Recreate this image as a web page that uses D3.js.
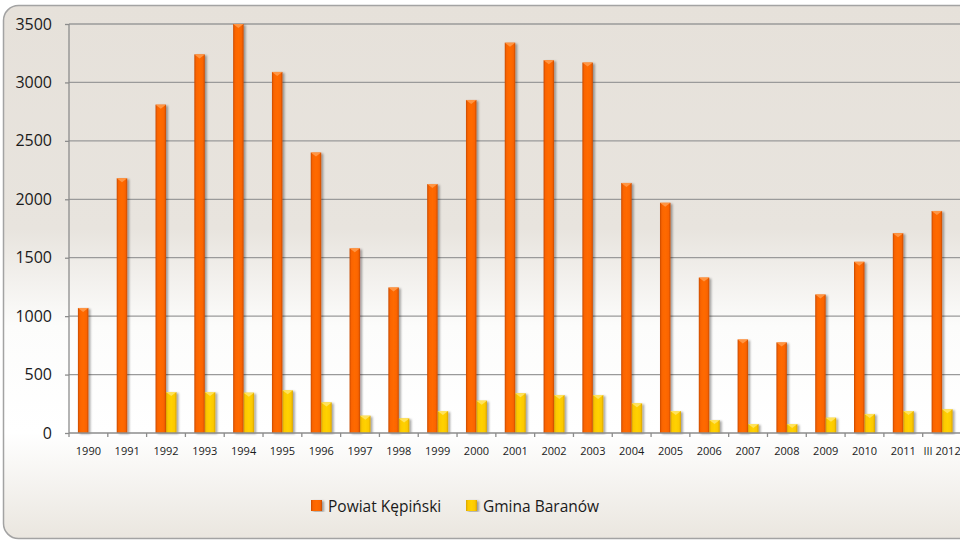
<!DOCTYPE html>
<html>
<head>
<meta charset="utf-8">
<script src="https://cdn.jsdelivr.net/npm/d3@7"></script>
<style>
  html, body { margin: 0; padding: 0; background: #ffffff; }
  svg { display: block; font-family: "Open Sans", "Liberation Sans", sans-serif; }
</style>
</head>
<body>
<div id="chart-container"></div>
<script>
// Chart data
const years = ["1990", "1991", "1992", "1993", "1994", "1995", "1996", "1997", "1998", "1999",
  "2000", "2001", "2002", "2003", "2004", "2005", "2006", "2007", "2008", "2009",
  "2010", "2011", "III 2012"];
const powiat = [1070, 2180, 2810, 3240, 3500, 3090, 2400, 1580, 1245, 2130,
  2850, 3340, 3190, 3170, 2140, 1970, 1330, 800, 775, 1185,
  1465, 1710, 1900];
const gmina = [0, 0, 350, 350, 345, 365, 262, 148, 125, 188,
  277, 340, 325, 325, 254, 188, 111, 77, 77, 131,
  163, 188, 203];
const seriesNames = ["Powiat Kępiński", "Gmina Baranów"];
const yTicks = [0, 500, 1000, 1500, 2000, 2500, 3000, 3500];

const W = 960, H = 540;
const plot = { left: 69, right: 961.5, top: 24, bottom: 433 };

const svg = d3.select("#chart-container").append("svg")
  .attr("width", W).attr("height", H);

const defs = svg.append("defs");

// background gradient of the chart area
const bg = defs.append("linearGradient").attr("id", "bg")
  .attr("gradientUnits", "userSpaceOnUse")
  .attr("x1", 0).attr("y1", 5).attr("x2", 0).attr("y2", 539);
[[0, "#e6e1da"], [0.42, "#e8e4de"], [0.6, "#fcfcfb"], [0.8, "#ffffff"], [1, "#eae6df"]]
  .forEach(s => bg.append("stop").attr("offset", s[0]).attr("stop-color", s[1]));

// bar gradients (cylinder-ish shading)
function barGrad(id, dark, mid, light) {
  const g = defs.append("linearGradient").attr("id", id)
    .attr("x1", 0).attr("y1", 0).attr("x2", 1).attr("y2", 0);
  [[0, dark], [0.18, mid], [0.5, light], [0.82, mid], [1, dark]]
    .forEach(s => g.append("stop").attr("offset", s[0]).attr("stop-color", s[1]));
}
barGrad("gOrange", "#c84a00", "#fa6400", "#ff6a00");
barGrad("gYellow", "#d7a300", "#fcc800", "#ffd200");

const shadow = defs.append("filter").attr("id", "shadow")
  .attr("x", "-30%").attr("y", "-5%").attr("width", "180%").attr("height", "110%");
shadow.append("feDropShadow").attr("dx", 2).attr("dy", 1)
  .attr("stdDeviation", 1.2).attr("flood-color", "#000").attr("flood-opacity", 0.35);

// chart area frame
svg.append("rect")
  .attr("x", 3.5).attr("y", 5.5).attr("width", 975).attr("height", 533)
  .attr("rx", 15).attr("ry", 15)
  .attr("fill", "url(#bg)").attr("stroke", "#a3a3a3").attr("stroke-width", 1.5);

// Scales
const x = d3.scaleBand().domain(years).range([plot.left, plot.right]).padding(0);
const x1 = d3.scaleBand().domain(seriesNames).range([0, x.bandwidth()])
  .paddingInner(0).paddingOuter(0.85);
const y = d3.scaleLinear().domain([0, 3500]).range([plot.bottom, plot.top]);

// gridlines
svg.append("g").selectAll("line").data(yTicks.filter(d => d > 0)).join("line")
  .attr("x1", plot.left).attr("x2", W)
  .attr("y1", d => y(d)).attr("y2", d => y(d))
  .attr("stroke", "#9a9a9a").attr("stroke-width", 1.3);

// y axis
const yAxis = svg.append("g")
  .attr("transform", `translate(${plot.left},0)`)
  .call(d3.axisLeft(y).tickValues(yTicks).tickSize(4).tickPadding(13).tickFormat(d3.format("d")));
yAxis.select(".domain").attr("stroke", "#8c8c8c").attr("stroke-width", 1.3)
  .attr("d", `M0,${plot.top}V${plot.bottom}`);
yAxis.selectAll(".tick line").attr("stroke", "#8c8c8c").attr("stroke-width", 1.3);
yAxis.selectAll("text").attr("font-size", 16).attr("fill", "#1a1a1a")
  .attr("font-family", "'Open Sans', sans-serif");

// bars
const data = years.map((yr, i) => ({ year: yr, values: [powiat[i], gmina[i]] }));
const colors = ["url(#gOrange)", "url(#gYellow)"];
const tops = ["#ff9a4a", "#ffe466"];

const groups = svg.append("g").selectAll("g").data(data).join("g")
  .attr("transform", d => `translate(${x(d.year)},0)`);

groups.selectAll("rect").data(d => d.values.map((v, k) => ({ v, k })).filter(e => e.v > 0))
  .join("rect")
  .attr("x", e => x1(seriesNames[e.k]))
  .attr("y", e => y(e.v))
  .attr("width", x1.bandwidth())
  .attr("height", e => y(0) - y(e.v))
  .attr("fill", e => colors[e.k])
  .attr("filter", "url(#shadow)");

// small bevel highlight at each bar top
groups.selectAll("path").data(d => d.values.map((v, k) => ({ v, k })).filter(e => e.v > 0))
  .join("path")
  .attr("d", e => {
    const bx = x1(seriesNames[e.k]), bw = x1.bandwidth(), by = y(e.v);
    return `M${bx},${by}H${bx + bw}L${bx + bw / 2},${by + 4}Z`;
  })
  .attr("fill", e => tops[e.k]).attr("opacity", 0.9);

// x axis
const xAxisG = svg.append("g");
xAxisG.append("line")
  .attr("x1", plot.left).attr("x2", W)
  .attr("y1", y(0)).attr("y2", y(0))
  .attr("stroke", "#8c8c8c").attr("stroke-width", 1.3);
xAxisG.selectAll(".tk").data(years.concat(["end"])).join("line").attr("class", "tk")
  .attr("x1", d => d === "end" ? plot.right : x(d))
  .attr("x2", d => d === "end" ? plot.right : x(d))
  .attr("y1", y(0)).attr("y2", y(0) + 4)
  .attr("stroke", "#8c8c8c").attr("stroke-width", 1.3);
xAxisG.selectAll("text").data(years).join("text")
  .attr("x", d => x(d) + x.bandwidth() / 2)
  .attr("y", 455)
  .attr("text-anchor", "middle")
  .attr("font-size", 11)
  .attr("fill", "#1a1a1a")
  .text(d => d);

// legend
const legend = svg.append("g");
const legendItems = [
  { name: seriesNames[0], fill: colors[0], x: 311 },
  { name: seriesNames[1], fill: colors[1], x: 466 }
];
legend.selectAll("rect").data(legendItems).join("rect")
  .attr("x", d => d.x).attr("y", 500)
  .attr("width", 11).attr("height", 11)
  .attr("fill", d => d.fill)
  .attr("filter", "url(#shadow)");
legend.selectAll("text").data(legendItems).join("text")
  .attr("x", d => d.x + 17).attr("y", 511.5)
  .attr("font-size", 15.5)
  .attr("fill", "#1a1a1a")
  .text(d => d.name);
</script>
</body>
</html>
